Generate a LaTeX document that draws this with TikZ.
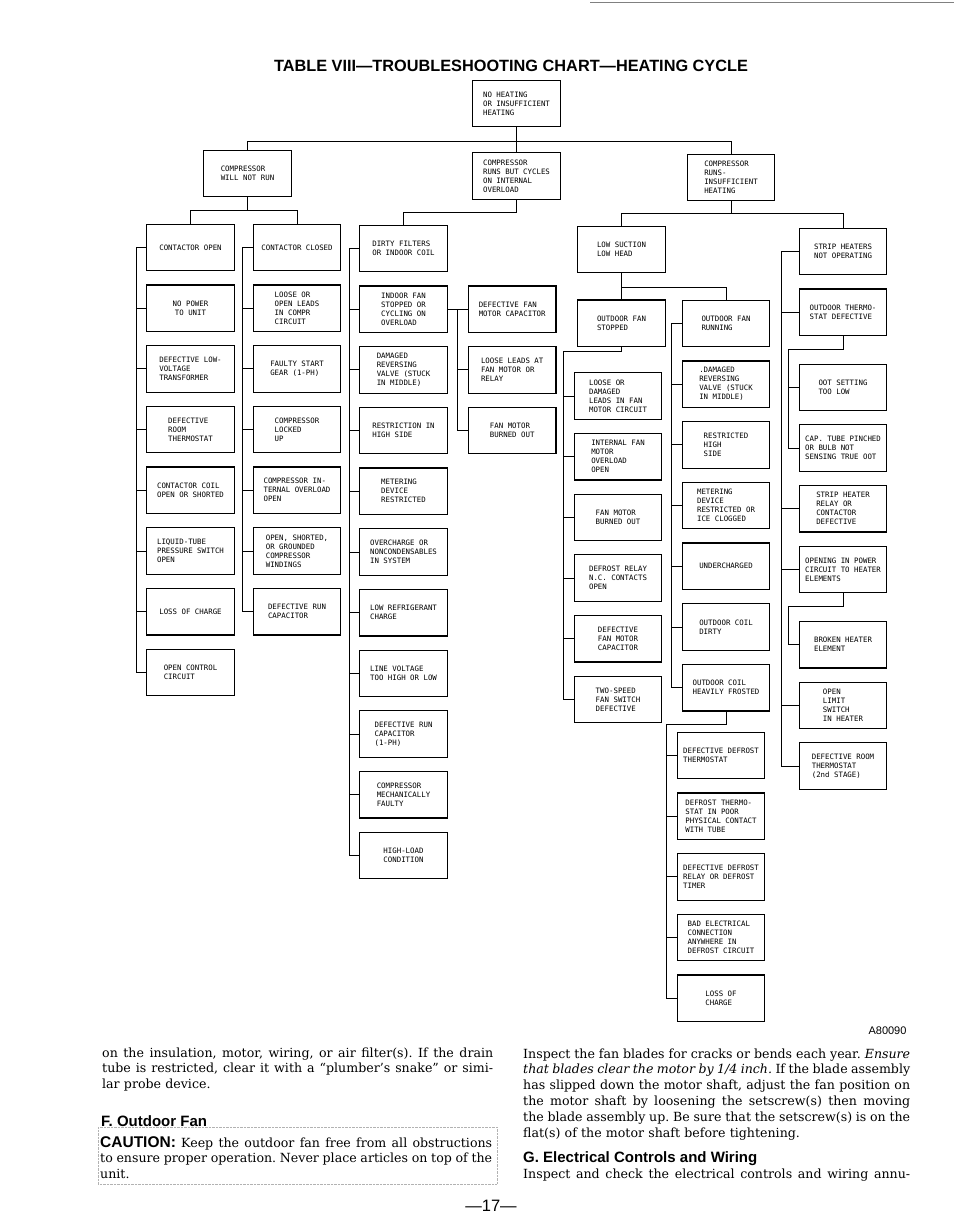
\documentclass[tikz,border=0pt]{standalone}
\usepackage{fontspec}
\usetikzlibrary{positioning}

\newfontfamily\chartfont{DejaVu Sans Mono}
\newfontfamily\headfont{Liberation Sans}
\newfontfamily\bodyfont{DejaVu Serif}
\newcommand{\jline}[1]{{\spaceskip=0pt\xspaceskip=0pt\makebox[\hsize][s]{#1}}}
\frenchspacing

\begin{document}
\begin{tikzpicture}[
    x=1pt, y=-1pt,
    node distance=13pt,
    box/.style={
        rectangle,
        draw,
        align=left,
        minimum width=87.5pt,
        minimum height=46.5pt,
        inner sep=2pt,
        line width=1.2pt,
        font=\chartfont\fontsize{7.4}{9}\selectfont
    },
    link/.style={
        draw,
        line width=1pt
    },
    body/.style={
        anchor=base west,
        inner sep=0pt,
        align=left,
        font=\bodyfont\fontsize{12.6}{15.8}\selectfont
    },
    heading/.style={
        anchor=base west,
        inner sep=0pt,
        font=\headfont\bfseries\fontsize{15}{18}\selectfont
    }
]
    \useasboundingbox (0,0) rectangle (954,1228);
    \draw [line width=0.6pt, gray] (590,2) -- (954,2);

    \node [anchor=base, font=\headfont\bfseries\fontsize{16.3}{19}\selectfont] (title) at (511,72)
        {TABLE VIII—TROUBLESHOOTING CHART—HEATING CYCLE};

    % Top of the chart
    \node [box] (root) at (516.5,103.5) {NO HEATING\\OR INSUFFICIENT\\HEATING};
    \node [box] (cwnr) at (247.5,173.5) {COMPRESSOR\\WILL NOT RUN};
    \node [box] (cycling) at (516.5,176) {COMPRESSOR\\RUNS BUT CYCLES\\ON INTERNAL\\OVERLOAD};
    \node [box] (insuff) at (731,177.5) {COMPRESSOR\\RUNS-\\INSUFFICIENT\\HEATING};

    % Contactor open
    \node [box] (ctopen) at (190.5,247.5) {CONTACTOR OPEN};
    \node [box, align=center, below=of ctopen] (nopower) {NO POWER\\TO UNIT};
    \node [box, below=of nopower] (lvtrans) {DEFECTIVE LOW-\\VOLTAGE\\TRANSFORMER};
    \node [box, below=of lvtrans] (roomtstat) {DEFECTIVE\\ROOM\\THERMOSTAT};
    \node [box, below=of roomtstat] (ctcoil) {CONTACTOR COIL\\OPEN OR SHORTED};
    \node [box, below=of ctcoil] (ltswitch) {LIQUID-TUBE\\PRESSURE SWITCH\\OPEN};
    \node [box, below=of ltswitch] (lossA) {LOSS OF CHARGE};
    \node [box, below=of lossA] (openctl) {OPEN CONTROL\\CIRCUIT};

    % Contactor closed
    \node [box] (ctclosed) at (297,247.5) {CONTACTOR CLOSED};
    \node [box, below=of ctclosed] (looseleads) {LOOSE OR\\OPEN LEADS\\IN COMPR\\CIRCUIT};
    \node [box, below=of looseleads] (faultystart) {FAULTY START\\GEAR (1-PH)};
    \node [box, below=of faultystart] (lockedup) {COMPRESSOR\\LOCKED\\UP};
    \node [box, below=of lockedup] (intovl) {COMPRESSOR IN-\\TERNAL OVERLOAD\\OPEN};
    \node [box, below=of intovl] (windings) {OPEN, SHORTED,\\OR GROUNDED\\COMPRESSOR\\WINDINGS};
    \node [box, below=of windings] (runcapB) {DEFECTIVE RUN\\CAPACITOR};

    % Cycling on overload
    \node [box] (filters) at (403.5,248.5) {DIRTY FILTERS\\OR INDOOR COIL};
    \node [box, below=of filters] (indoorfan) {INDOOR FAN\\STOPPED OR\\CYCLING ON\\OVERLOAD};
    \node [box, below=of indoorfan] (revvalveC) {DAMAGED\\REVERSING\\VALVE (STUCK\\IN MIDDLE)};
    \node [box, below=of revvalveC] (restrictC) {RESTRICTION IN\\HIGH SIDE};
    \node [box, below=of restrictC] (meterC) {METERING\\DEVICE\\RESTRICTED};
    \node [box, below=of meterC] (overcharge) {OVERCHARGE OR\\NONCONDENSABLES\\IN SYSTEM};
    \node [box, below=of overcharge] (lowref) {LOW REFRIGERANT\\CHARGE};
    \node [box, below=of lowref] (linevolt) {LINE VOLTAGE\\TOO HIGH OR LOW};
    \node [box, below=of linevolt] (runcapC) {DEFECTIVE RUN\\CAPACITOR\\(1-PH)};
    \node [box, below=of runcapC] (mechfault) {COMPRESSOR\\MECHANICALLY\\FAULTY};
    \node [box, below=of mechfault] (highload) {HIGH-LOAD\\CONDITION};
    \node [box, right=20pt of indoorfan] (fancapC) {DEFECTIVE FAN\\MOTOR CAPACITOR};
    \node [box, below=of fancapC] (fanleadsC) {LOOSE LEADS AT\\FAN MOTOR OR\\RELAY};
    \node [box, below=of fanleadsC] (fanburnC) {FAN MOTOR\\BURNED OUT};

    % Low suction, low head
    \node [box] (lowsuct) at (621.5,249.5) {LOW SUCTION\\LOW HEAD};
    \node [box, below=26pt of lowsuct] (odstop) {OUTDOOR FAN\\STOPPED};
    \node [box] (odrun) at (726,323.5) {OUTDOOR FAN\\RUNNING};
    \node [box] (fanleadsD) at (618,396) {LOOSE OR\\DAMAGED\\LEADS IN FAN\\MOTOR CIRCUIT};
    \node [box, below=of fanleadsD] (fanovl) {INTERNAL FAN\\MOTOR\\OVERLOAD\\OPEN};
    \node [box, below=of fanovl] (fanburnD) {FAN MOTOR\\BURNED OUT};
    \node [box, below=of fanburnD] (dfrelay) {DEFROST RELAY\\N.C. CONTACTS\\OPEN};
    \node [box, below=of dfrelay] (fancapD) {DEFECTIVE\\FAN MOTOR\\CAPACITOR};
    \node [box, below=of fancapD] (twospeed) {TWO-SPEED\\FAN SWITCH\\DEFECTIVE};
    \node [box, below=of odrun] (revvalveD) {.DAMAGED\\REVERSING\\VALVE (STUCK\\IN MIDDLE)};
    \node [box, below=of revvalveD] (restrictD) {RESTRICTED\\HIGH\\SIDE};
    \node [box, below=of restrictD] (meterD) {METERING\\DEVICE\\RESTRICTED OR\\ICE CLOGGED};
    \node [box, below=of meterD] (undercharge) {UNDERCHARGED};
    \node [box, below=of undercharge] (coildirty) {OUTDOOR COIL\\DIRTY};
    \node [box, below=of coildirty] (coilfrost) {OUTDOOR COIL\\HEAVILY FROSTED};
    \node [box] (dftstat) at (721,755.5) {DEFECTIVE DEFROST\\THERMOSTAT};
    \node [box, below=of dftstat] (dfcontact) {DEFROST THERMO-\\STAT IN POOR\\PHYSICAL CONTACT\\WITH TUBE};
    \node [box, below=of dfcontact] (dftimer) {DEFECTIVE DEFROST\\RELAY OR DEFROST\\TIMER};
    \node [box, below=of dftimer] (dfwiring) {BAD ELECTRICAL\\CONNECTION\\ANYWHERE IN\\DEFROST CIRCUIT};
    \node [box, below=of dfwiring] (lossD) {LOSS OF\\CHARGE};

    % Strip heaters
    \node [box] (strip) at (843,251.5) {STRIP HEATERS\\NOT OPERATING};
    \node [box, below=of strip] (oottstat) {OUTDOOR THERMO-\\STAT DEFECTIVE};
    \node [box, below=27.5pt of oottstat] (ootlow) {OOT SETTING\\TOO LOW};
    \node [box, below=of ootlow] (captube) {CAP. TUBE PINCHED\\OR BULB NOT\\SENSING TRUE OOT};
    \node [box, below=of captube] (shrelay) {STRIP HEATER\\RELAY OR\\CONTACTOR\\DEFECTIVE};
    \node [box, below=of shrelay] (heatpower) {OPENING IN POWER\\CIRCUIT TO HEATER\\ELEMENTS};
    \node [box, below=27.5pt of heatpower] (element) {BROKEN HEATER\\ELEMENT};
    \node [box, below=of element] (limitsw) {OPEN\\LIMIT\\SWITCH\\IN HEATER};
    \node [box, below=of limitsw] (roomtstat2) {DEFECTIVE ROOM\\THERMOSTAT\\(2nd STAGE)};

    % Connections, top
    \path [link] (root.south) -- (cycling.north);
    \path [link] (root.south) -- ++(0,14) -| (cwnr.north);
    \path [link] (root.south) -- ++(0,14) -| (insuff.north);
    \path [link] (cwnr.south) -- ++(0,13) -| (ctopen.north);
    \path [link] (cwnr.south) -- ++(0,13) -| (ctclosed.north);
    \path [link] (cycling.south) -- ++(0,13) -| (filters.north);
    \path [link] (insuff.south) -- ++(0,12) -| (lowsuct.north);
    \path [link] (insuff.south) -- ++(0,12) -| (strip.north);

    % Connections, compressor will not run
    \path [link] (ctopen.west) -- ++(-10pt,0) |- (nopower.west);
    \path [link] (ctopen.west) -- ++(-10pt,0) |- (lvtrans.west);
    \path [link] (ctopen.west) -- ++(-10pt,0) |- (roomtstat.west);
    \path [link] (ctopen.west) -- ++(-10pt,0) |- (ctcoil.west);
    \path [link] (ctopen.west) -- ++(-10pt,0) |- (ltswitch.west);
    \path [link] (ctopen.west) -- ++(-10pt,0) |- (lossA.west);
    \path [link] (ctopen.west) -- ++(-10pt,0) |- (openctl.west);
    \path [link] (ctclosed.west) -- ++(-10pt,0) |- (looseleads.west);
    \path [link] (ctclosed.west) -- ++(-10pt,0) |- (faultystart.west);
    \path [link] (ctclosed.west) -- ++(-10pt,0) |- (lockedup.west);
    \path [link] (ctclosed.west) -- ++(-10pt,0) |- (intovl.west);
    \path [link] (ctclosed.west) -- ++(-10pt,0) |- (windings.west);
    \path [link] (ctclosed.west) -- ++(-10pt,0) |- (runcapB.west);

    % Connections, cycling on overload
    \path [link] (filters.west) -- ++(-10pt,0) |- (indoorfan.west);
    \path [link] (filters.west) -- ++(-10pt,0) |- (revvalveC.west);
    \path [link] (filters.west) -- ++(-10pt,0) |- (restrictC.west);
    \path [link] (filters.west) -- ++(-10pt,0) |- (meterC.west);
    \path [link] (filters.west) -- ++(-10pt,0) |- (overcharge.west);
    \path [link] (filters.west) -- ++(-10pt,0) |- (lowref.west);
    \path [link] (filters.west) -- ++(-10pt,0) |- (linevolt.west);
    \path [link] (filters.west) -- ++(-10pt,0) |- (runcapC.west);
    \path [link] (filters.west) -- ++(-10pt,0) |- (mechfault.west);
    \path [link] (filters.west) -- ++(-10pt,0) |- (highload.west);
    \path [link] (indoorfan.east) -- (fancapC.west);
    \path [link] (indoorfan.east) -- ++(10pt,0) |- (fanleadsC.west);
    \path [link] (indoorfan.east) -- ++(10pt,0) |- (fanburnC.west);

    % Connections, insufficient heating
    \path [link] (lowsuct.south) -- (odstop.north);
    \path [link] (lowsuct.south) -- ++(0,14) -| (odrun.north);
    \path [link] (odstop.south) -- ++(0,4) -| ([xshift=-10pt]twospeed.west) -- (twospeed.west);
    \path [link] ([xshift=-10pt]fanleadsD.west) -- (fanleadsD.west);
    \path [link] ([xshift=-10pt]fanovl.west) -- (fanovl.west);
    \path [link] ([xshift=-10pt]fanburnD.west) -- (fanburnD.west);
    \path [link] ([xshift=-10pt]dfrelay.west) -- (dfrelay.west);
    \path [link] ([xshift=-10pt]fancapD.west) -- (fancapD.west);
    \path [link] (odrun.west) -- ++(-10pt,0) |- (revvalveD.west);
    \path [link] (odrun.west) -- ++(-10pt,0) |- (restrictD.west);
    \path [link] (odrun.west) -- ++(-10pt,0) |- (meterD.west);
    \path [link] (odrun.west) -- ++(-10pt,0) |- (undercharge.west);
    \path [link] (odrun.west) -- ++(-10pt,0) |- (coildirty.west);
    \path [link] (odrun.west) -- ++(-10pt,0) |- (coilfrost.west);
    \path [link] (coilfrost.south) -- ++(0,13) -| ([xshift=-10pt]lossD.west) -- (lossD.west);
    \path [link] ([xshift=-10pt]dftstat.west) -- (dftstat.west);
    \path [link] ([xshift=-10pt]dfcontact.west) -- (dfcontact.west);
    \path [link] ([xshift=-10pt]dftimer.west) -- (dftimer.west);
    \path [link] ([xshift=-10pt]dfwiring.west) -- (dfwiring.west);
    \path [link] (strip.west) -- ++(-17pt,0) |- (oottstat.west);
    \path [link] (strip.west) -- ++(-17pt,0) |- (shrelay.west);
    \path [link] (strip.west) -- ++(-17pt,0) |- (heatpower.west);
    \path [link] (strip.west) -- ++(-17pt,0) |- (limitsw.west);
    \path [link] (strip.west) -- ++(-17pt,0) |- (roomtstat2.west);
    \path [link] (oottstat.south) -- ++(0,13) -| ([xshift=-10pt]captube.west) -- (captube.west);
    \path [link] ([xshift=-10pt]ootlow.west) -- (ootlow.west);
    \path [link] (heatpower.south) -- ++(0,13) -| ([xshift=-10pt]element.west) -- (element.west);

    \node [anchor=base east, font=\headfont\fontsize{11}{13}\selectfont] (figno) at (910,1034) {A80090};

    % Page text
    \node [body, text width=391pt] (leftpar) at (102,1057) {%
        \jline{on the insulation, motor, wiring, or air filter(s). If the drain}\\
        \jline{tube is restricted, clear it with a “plumber’s snake” or simi-}\\
        lar probe device.};
    \node [heading] (headF) at (101,1126) {F. Outdoor Fan};
    \node [body, text width=392pt] (caution) at (100,1147) {%
        \jline{{\headfont\bfseries\fontsize{15.5}{18}\selectfont CAUTION:} Keep the outdoor fan free from all obstructions}\\
        \jline{to ensure proper operation. Never place articles on top of the}\\
        unit.};
    \draw [densely dotted, gray!60] (98,1127) rectangle (497,1184);
    \node [body, text width=387pt] (rightpar) at (523,1058) {%
        \jline{Inspect the fan blades for cracks or bends each year. \textit{Ensure}}\\
        \jline{\textit{that blades clear the motor by 1/4 inch.} If the blade assembly}\\
        \jline{has slipped down the motor shaft, adjust the fan position on}\\
        \jline{the motor shaft by loosening the setscrew(s) then moving}\\
        \jline{the blade assembly up. Be sure that the setscrew(s) is on the}\\
        flat(s) of the motor shaft before tightening.};
    \node [heading] (headG) at (523,1162) {G. Electrical Controls and Wiring};
    \node [body, text width=387pt] (lastpar) at (523,1178)
        {\jline{Inspect and check the electrical controls and wiring annu-}};
    \node [anchor=base, font=\headfont\fontsize{16.5}{19}\selectfont] (pageno) at (491,1211) {—17—};

\end{tikzpicture}
\end{document}
